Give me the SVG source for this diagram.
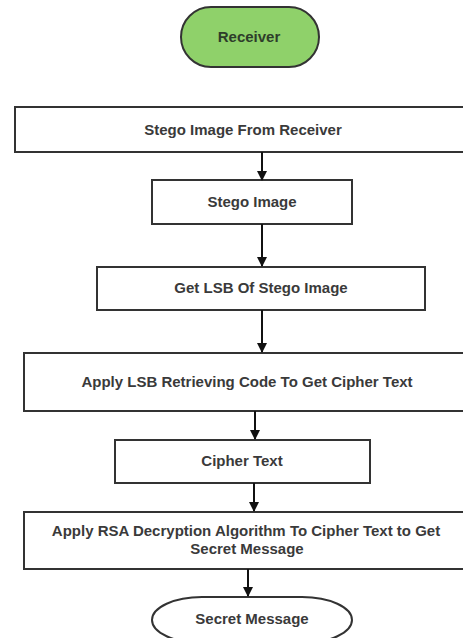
<svg xmlns="http://www.w3.org/2000/svg" width="463" height="638" viewBox="0 0 463 638">
<defs>
<marker id="ah" markerWidth="10" markerHeight="10" refX="9" refY="5" orient="auto" markerUnits="userSpaceOnUse">
<path d="M0,0 L10,5 L0,10 Z" fill="#111"/>
</marker>
<style>
.box{fill:#fff;stroke:#333;stroke-width:2}
.t{font-family:"Liberation Sans",Arial,sans-serif;font-size:15px;font-weight:bold;fill:#3a3a3a;text-anchor:middle;dominant-baseline:central}
.c{stroke:#111;stroke-width:2;fill:none;marker-end:url(#ah)}
</style>
</defs>
<rect width="463" height="638" fill="#fff"/>
<g id="receiver">
<rect x="181" y="7" width="138" height="60" rx="30" ry="30" fill="#8fd16a" stroke="#333" stroke-width="2"/>
<text class="t" x="249" y="36" style="fill:#2e3d2a">Receiver</text>
</g>
<g id="stego-from-receiver">
<rect class="box" x="15" y="107" width="460" height="45"/>
<text class="t" x="243" y="129">Stego Image From Receiver</text>
</g>
<g id="stego-image">
<rect class="box" x="152" y="180" width="200" height="44"/>
<text class="t" x="252" y="201">Stego Image</text>
</g>
<g id="get-lsb">
<rect class="box" x="97" y="267" width="328" height="43"/>
<text class="t" x="261" y="287">Get LSB Of Stego Image</text>
</g>
<g id="apply-lsb">
<rect class="box" x="24" y="353" width="451" height="58"/>
<text class="t" x="247" y="381">Apply LSB Retrieving Code To Get Cipher Text</text>
</g>
<g id="cipher-text">
<rect class="box" x="115" y="440" width="255" height="43"/>
<text class="t" x="242" y="460">Cipher Text</text>
</g>
<g id="apply-rsa">
<rect class="box" x="24" y="512" width="451" height="57"/>
<text class="t" x="246" y="530">Apply RSA Decryption Algorithm To Cipher Text to Get</text>
<text class="t" x="247" y="548">Secret Message</text>
</g>
<g id="secret-message">
<rect class="box" x="152" y="597" width="200" height="46" rx="50" ry="23"/>
<text class="t" x="252" y="618">Secret Message</text>
</g>
<g id="connectors">
<line class="c" x1="262" y1="152" x2="262" y2="180"/>
<line class="c" x1="262" y1="224" x2="262" y2="266"/>
<line class="c" x1="262" y1="310" x2="262" y2="352"/>
<line class="c" x1="255" y1="411" x2="255" y2="439"/>
<line class="c" x1="254" y1="483" x2="254" y2="511"/>
<line class="c" x1="248" y1="569" x2="248" y2="596"/>
</g>
</svg>
